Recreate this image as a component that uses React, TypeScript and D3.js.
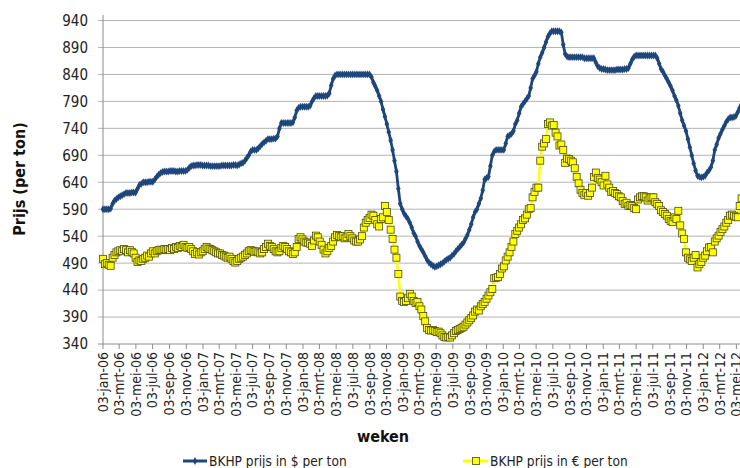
import React from 'react';
import * as d3 from 'd3';

const startDate = new Date(2006, 0, 3);

const tickLabels = [
  '03-jan-06','03-mrt-06','03-mei-06','03-jul-06','03-sep-06','03-nov-06',
  '03-jan-07','03-mrt-07','03-mei-07','03-jul-07','03-sep-07','03-nov-07',
  '03-jan-08','03-mrt-08','03-mei-08','03-jul-08','03-sep-08','03-nov-08',
  '03-jan-09','03-mrt-09','03-mei-09','03-jul-09','03-sep-09','03-nov-09',
  '03-jan-10','03-mrt-10','03-mei-10','03-jul-10','03-sep-10','03-nov-10',
  '03-jan-11','03-mrt-11','03-mei-11','03-jul-11','03-sep-11','03-nov-11',
  '03-jan-12','03-mrt-12','03-mei-12'
];

const yTicks = [340, 390, 440, 490, 540, 590, 640, 690, 740, 790, 840, 890, 940];

// BKHP prijs in $ per ton (weekly)
const usdPrice = [
  590,590,590,590,591,
  600,606,609,612,614,616,618,620,620,620,621,621,621,
  628,635,637,640,640,640,641,641,641,
  645,650,654,657,659,
  660,660,660,661,661,661,660,660,661,661,661,661,
  663,667,670,
  671,671,672,672,672,671,671,671,671,670,670,670,670,670,670,671,671,671,671,671,671,672,672,
  671,673,675,676,680,685,690,697,700,700,
  700,703,707,711,714,717,720,720,720,721,721,725,
  740,750,750,750,750,750,750,751,
  760,773,778,780,780,780,780,780,782,790,796,800,
  800,800,800,800,800,801,805,820,832,838,
  840,840,840,840,840,840,840,840,840,840,840,840,840,840,840,840,840,840,
  835,825,818,810,800,790,775,762,748,733,718,700,680,660,628,600,590,582,577,572,565,556,546,540,530,522,516,510,503,496,
  491,488,485,483,484,486,488,490,493,496,498,500,504,507,512,516,520,524,528,535,542,552,562,575,585,590,600,610,625,645,
  648,650,670,690,697,700,700,700,700,700,712,725,727,730,735,748,755,768,780,785,790,795,800,815,832,838,845,860,872,880,890,900,910,916,
  920,920,920,920,920,918,895,878,873,872,872,872,872,872,872,872,872,870,870,870,870,870,870,862,855,852,
  850,850,849,848,848,848,848,848,849,849,849,849,850,850,852,860,868,873,875,875,875,875,875,875,875,875,875,875,875,
  870,860,850,845,838,832,825,818,810,800,792,782,768,755,745,735,720,705,690,675,662,652,650,649,650,652,658,662,668,680,
  700,710,722,730,738,745,752,757,760,760,761,763,770,778,785
];

// BKHP prijs in € per ton (weekly)
const eurPrice = [
  498,488,490,487,485,500,505,510,512,514,
  512,516,514,510,514,511,508,500,492,495,
  494,498,500,504,502,508,512,508,512,514,
  515,514,516,515,516,514,518,516,520,518,
  522,520,524,520,518,520,516,512,507,510,
  506,510,512,516,520,517,516,514,512,510,
  508,508,505,504,502,500,502,498,494,491,
  494,498,500,502,505,508,512,514,513,511,
  512,510,508,510,516,520,526,522,520,516,
  512,510,512,518,522,520,516,512,510,507,
  510,520,535,538,534,530,528,528,526,522,
  532,541,538,530,524,515,508,512,518,522,
  530,538,542,540,538,540,536,538,544,540,
  536,532,530,530,534,540,556,565,570,574,
  580,578,570,562,558,572,575,596,585,570,
  552,535,515,500,470,428,420,418,420,425,
  433,428,420,416,418,410,404,392,382,370,
  366,365,366,364,362,363,360,356,353,352,
  353,352,356,360,364,366,368,370,372,376,
  380,384,388,393,400,404,402,410,414,418,
  424,430,436,442,462,463,464,470,480,484,
  495,502,510,520,530,544,550,556,562,570,
  573,580,590,592,612,622,630,630,680,706,
  712,720,748,751,745,746,732,725,708,710,
  700,676,684,683,680,677,666,650,638,626,
  620,616,620,615,620,630,650,658,648,645,
  640,634,652,636,630,622,624,620,618,614,
  612,605,600,602,596,598,596,592,590,608,
  612,614,614,612,606,610,612,612,603,600,
  596,588,585,581,578,572,568,566,575,572,
  587,560,545,535,510,500,497,494,500,505,
  482,488,492,500,504,512,519,520,510,530,
  536,541,548,553,558,565,570,578,580,578,
  576,575,596,610
];

const FONT = "'Liberation Sans Narrow', 'Arial Narrow', 'DejaVu Sans Condensed', sans-serif";
const BLUE = '#1f467a';
const YELLOW = '#ffff00';

export default function App() {
  const W = 740, H = 468;
  const x0 = 103;
  const x = d3.scaleTime()
    .domain([startDate, new Date(2012, 4, 3)])
    .range([x0, 736.4]);
  const y = d3.scaleLinear().domain([340, 940]).range([344, 20.5]);

  const dates = usdPrice.map((_, i) => d3.timeDay.offset(startDate, 7 * i));
  const tickDates = tickLabels.map((_, k) => new Date(2006, 2 * k, 3));

  const usdPts: [number, number][] = usdPrice.map((v, i) => [x(dates[i]), y(v)]);
  const eurPts: [number, number][] = eurPrice.map((v, i) => [x(dates[i]), y(v)]);
  const line = d3.line();
  const diamond = d3.symbol().type(d3.symbolDiamond).size(18)()!;

  return (
    <svg width={W} height={H} style={{ position: 'fixed', left: 0, top: 0, background: '#fff' }}
      fontFamily={FONT}>
      <defs>
        <clipPath id="plot">
          <rect x={x0 - 5} y={0} width={W - x0 + 5} height={350} />
        </clipPath>
      </defs>
      {yTicks.map(t => (
        <g key={t}>
          <line x1={x0 - 5} x2={W} y1={y(t)} y2={y(t)} stroke={t === 340 ? '#8c8c8c' : '#b4b4b4'} strokeWidth={1} />
          <text x={88} y={y(t)} dy="0.36em" textAnchor="end" fontSize={15} fill="#222">{t}</text>
        </g>
      ))}
      <line x1={x0} x2={x0} y1={15} y2={344} stroke="#8c8c8c" />
      {tickDates.map((d, k) => (
        <g key={k}>
          <line x1={x(d)} x2={x(d)} y1={344} y2={349} stroke="#8c8c8c" />
          <text transform={`translate(${x(d)},352) rotate(-90)`} textAnchor="end" dy="0.35em"
            fontSize={14} fill="#222">{tickLabels[k]}</text>
        </g>
      ))}
      <g clipPath="url(#plot)">
        <path d={line(usdPts)!} fill="none" stroke={BLUE} strokeWidth={2.8} />
        {usdPts.map((p, i) => (
          <path key={i} d={diamond} transform={`translate(${p[0]},${p[1]})`} fill={BLUE} />
        ))}
        <path d={line(eurPts)!} fill="none" stroke={YELLOW} strokeWidth={2.5} />
        {eurPts.map((p, i) => (
          <rect key={i} x={p[0] - 3.5} y={p[1] - 3.5} width={7} height={7}
            fill={YELLOW} stroke="#4a4a14" strokeWidth={0.8} />
        ))}
      </g>
      <text x={383} y={442} textAnchor="middle" fontSize={16} fontWeight="bold" fill="#111">weken</text>
      <text transform="translate(25,179) rotate(-90)" textAnchor="middle" fontSize={16} fontWeight="bold" fill="#111">Prijs (per ton)</text>
      <g>
        <line x1={183} x2={207} y1={461} y2={461} stroke={BLUE} strokeWidth={3} />
        <path d={diamond} transform="translate(195,461)" fill={BLUE} />
        <text x={209} y={461} dy="0.36em" fontSize={13.6} fill="#222">BKHP prijs in $ per ton</text>
        <line x1={463} x2={488} y1={461} y2={461} stroke={YELLOW} strokeWidth={3} />
        <rect x={472.5} y={457.5} width={7} height={7} fill={YELLOW} stroke="#4a4a14" strokeWidth={0.8} />
        <text x={490} y={461} dy="0.36em" fontSize={13.6} fill="#222">BKHP prijs in € per ton</text>
      </g>
    </svg>
  );
}
